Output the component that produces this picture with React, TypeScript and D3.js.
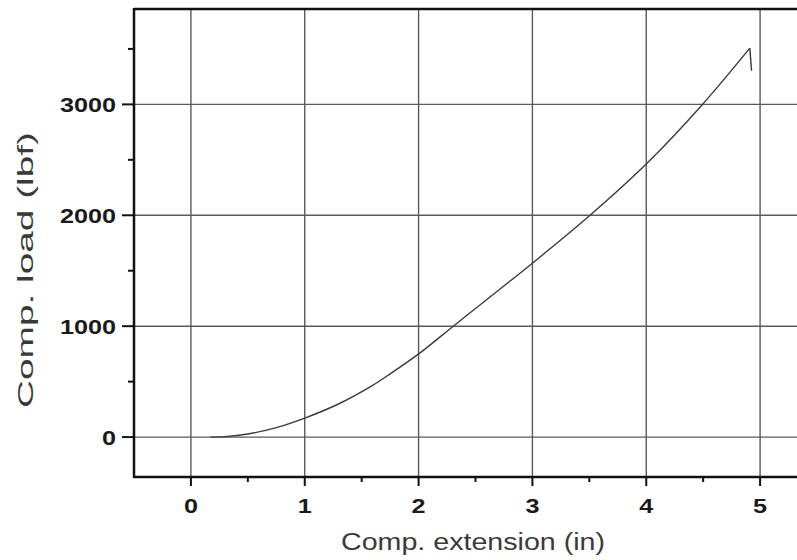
import React from "react";
import * as d3 from "d3";

const extension = [0.17, 0.3, 0.5, 0.75, 1.0, 1.31, 1.57, 1.75, 2.01, 2.305, 2.6, 3.0, 3.506, 4.02, 4.49, 4.91, 4.925];
const load = [0, 4, 28, 85, 171, 305, 450, 570, 757, 1000, 1241, 1568, 2000, 2483, 2995, 3507, 3303];

const xMajor = [0, 1, 2, 3, 4, 5];
const xMinor = [0.5, 1.5, 2.5, 3.5, 4.5];
const yMajor = [0, 1000, 2000, 3000];
const yMinor = [500, 1500, 2500, 3500];

const xTitle = "Comp. extension (in)";
const yTitle = "Comp. load (lbf)";

const W = 797;
const H = 560;
const left = 134;
const top = 9;
const bottom = 477;

export default function App() {
  const x = d3.scaleLinear().domain([-0.5, 5.5]).range([left, 817]);
  const y = d3.scaleLinear().domain([-360, 3860]).range([bottom, top]);
  const data = extension.map((e, i) => [e, load[i]] as [number, number]);
  const rise = data.slice(0, data.length - 1);
  const drop = data.slice(data.length - 2);
  const smooth = d3
    .line<[number, number]>()
    .x((d) => x(d[0]))
    .y((d) => y(d[1]))
    .curve(d3.curveCatmullRom.alpha(0.5));
  const straight = d3
    .line<[number, number]>()
    .x((d) => x(d[0]))
    .y((d) => y(d[1]));

  const gridColor = "#5a5a5a";
  const font = "'Liberation Sans', Arial, Helvetica, sans-serif";

  return (
    <svg
      width={W}
      height={H}
      style={{ position: "absolute", left: 0, top: 0, background: "#fff" }}
      fontFamily={font}
    >
      <rect x={0} y={0} width={W} height={H} fill="#fff" />
      {/* grid */}
      {xMajor.map((v) => (
        <line key={"gx" + v} x1={x(v)} x2={x(v)} y1={top} y2={bottom} stroke={gridColor} strokeWidth={1.4} />
      ))}
      {yMajor.map((v) => (
        <line key={"gy" + v} x1={left} x2={W} y1={y(v)} y2={y(v)} stroke={gridColor} strokeWidth={1.4} />
      ))}
      {/* curve */}
      <path d={smooth(rise) || ""} fill="none" stroke="#3a3a3a" strokeWidth={1.4} />
      <path d={straight(drop) || ""} fill="none" stroke="#3a3a3a" strokeWidth={1.4} />
      {/* axes frame */}
      <line x1={left} x2={left} y1={top - 1} y2={bottom + 1} stroke="#111" strokeWidth={2.5} />
      <line x1={left} x2={W} y1={top} y2={top} stroke="#111" strokeWidth={2.5} />
      <line x1={left} x2={W} y1={bottom} y2={bottom} stroke="#111" strokeWidth={2.5} />
      {/* x ticks */}
      {xMajor.map((v) => (
        <line key={"tx" + v} x1={x(v)} x2={x(v)} y1={bottom} y2={bottom + 9} stroke="#111" strokeWidth={2} />
      ))}
      {xMinor.map((v) => (
        <line key={"mx" + v} x1={x(v)} x2={x(v)} y1={bottom} y2={bottom + 5} stroke="#111" strokeWidth={2} />
      ))}
      {/* y ticks */}
      {yMajor.map((v) => (
        <line key={"ty" + v} x1={left - 12} x2={left} y1={y(v)} y2={y(v)} stroke="#111" strokeWidth={2} />
      ))}
      {yMinor.map((v) => (
        <line key={"my" + v} x1={left - 6} x2={left} y1={y(v)} y2={y(v)} stroke="#111" strokeWidth={2} />
      ))}
      {/* x tick labels */}
      {xMajor.map((v) => (
        <g key={"lx" + v} transform={`translate(${x(v)},${513}) scale(1.2,1)`}>
          <text textAnchor="middle" fontSize={21} fontWeight="bold" fill="#1a1a1a">
            {String(v)}
          </text>
        </g>
      ))}
      {/* y tick labels */}
      {yMajor.map((v) => (
        <g key={"ly" + v} transform={`translate(${116},${y(v) + 7.5}) scale(1.2,1)`}>
          <text textAnchor="end" fontSize={21} fontWeight="bold" fill="#1a1a1a">
            {String(v)}
          </text>
        </g>
      ))}
      {/* titles */}
      <text
        x={473}
        y={550}
        textAnchor="middle"
        fontSize={23}
        fill="#3a3a3a"
        textLength={264}
        lengthAdjust="spacingAndGlyphs"
      >
        {xTitle}
      </text>
      <text
        transform={`translate(33,270) rotate(-90)`}
        textAnchor="middle"
        fontSize={22}
        fill="#3a3a3a"
        textLength={276}
        lengthAdjust="spacingAndGlyphs"
      >
        {yTitle}
      </text>
    </svg>
  );
}
